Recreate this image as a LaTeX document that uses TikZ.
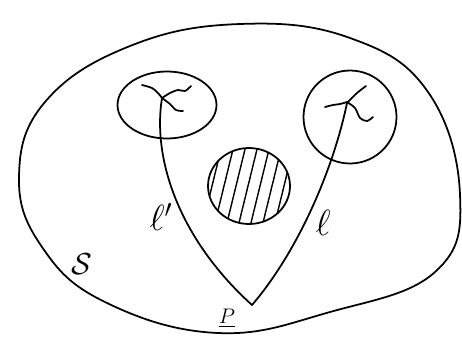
\documentclass[tikz,border=0pt]{standalone}
\usetikzlibrary{shapes.geometric, calc}
\tikzset{
    % hand drawn look, all black
    pen/.style={
        line width=1pt,
        draw=black,
        line cap=round,
        line join=round
    },
    patch/.style={
        ellipse,
        pen,
        inner sep=0pt
    },
    pathlabel/.style={
        font=\fontsize{22}{24}\selectfont,
        inner sep=0pt
    },
    hatch/.style={
        line width=0.8pt,
        draw=black
    }
}
\begin{document}
\begin{tikzpicture}[x=0.02cm, y=-0.02cm]
    \useasboundingbox (0,0) rectangle (462,338);

    % outer region
    \draw[pen] plot[smooth cycle, tension=0.7] coordinates {
        (19,177) (45,102) (130,46) (240,24) (350,38) (428,92)
        (460,195) (435,272) (330,312) (218,333) (105,302) (42,247)};

    % small patches
    \node[patch, minimum width=1.98cm, minimum height=1.34cm] (left) at (167,105) {};
    \node[patch, minimum width=1.86cm, minimum height=1.86cm] (right) at (350,117) {};
    \node[patch, minimum width=1.64cm, minimum height=1.52cm] (hole) at (249,186) {};

    \coordinate (xl) at (162,98);
    \coordinate (xr) at (347,103);
    \coordinate (P) at (252,305);

    % crossings
    \draw[pen] plot[smooth] coordinates {(142,85) (152,88) (158,93) (162,98)};
    \draw[pen] plot[smooth] coordinates {(162,98) (170,93) (178,90) (185,91) (191,86)};
    \draw[pen] plot[smooth] coordinates {(162,98) (170,104) (176,110) (183,111)};
    \draw[pen] plot[smooth] coordinates {(366,86) (357,93) (347,103)};
    \draw[pen] plot[smooth] coordinates {(325,107) (333,105) (340,104) (347,102)};
    \draw[pen] plot[smooth] coordinates {(347,102) (355,108) (360,118) (367,121) (373,117)};

    % hatching
    \begin{scope}
        \clip (249,186) ellipse [x radius=41, y radius=38];
        \foreach \x in {200,212,...,300}
            \draw[hatch] (\x-12,235) -- (\x+12,137);
    \end{scope}

    % the two paths
    \draw[pen] (xl) .. controls (152,160) and (180,240) .. (P);
    \draw[pen] (xr) .. controls (332,175) and (295,255) .. (P);

    \node[pathlabel] (lp) at (161,217) {$\ell'$};
    \node[pathlabel] (l) at (323,223) {$\ell$};
    \node[font=\LARGE, inner sep=0pt] (S) at (82,264) {$\mathcal{S}$};
    \node[font=\large, inner sep=0pt] (p) at (227,318) {$\underline{P}$};
\end{tikzpicture}
\end{document}
